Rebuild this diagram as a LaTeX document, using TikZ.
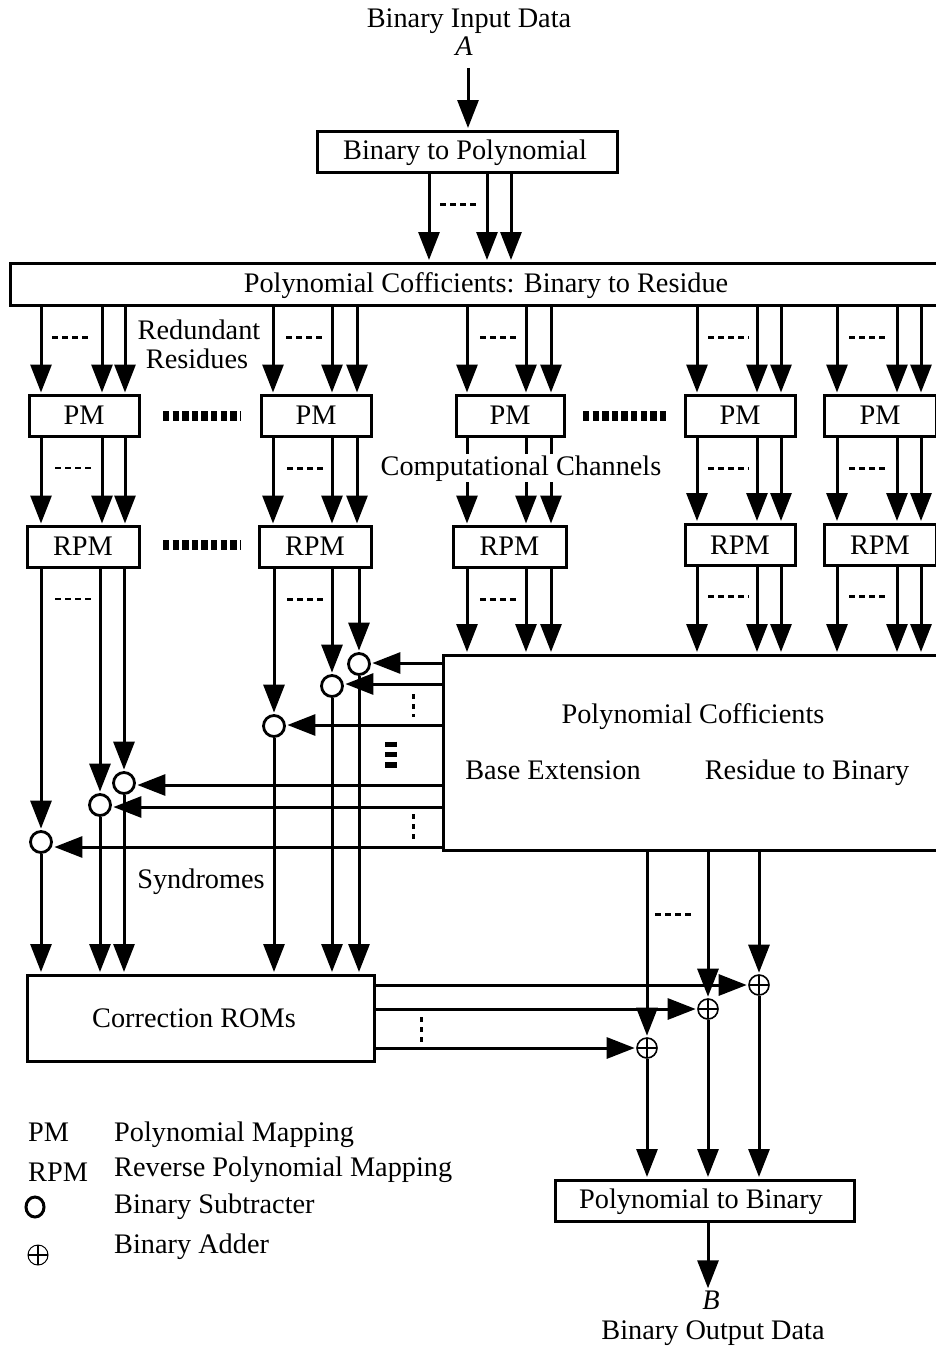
\documentclass[tikz,border=0pt]{standalone}
\usepackage{fontspec}
\setmainfont{Liberation Serif}
\usetikzlibrary{arrows.meta, shapes.geometric}

\begin{document}
\begin{tikzpicture}[
  x=1pt, y=-1pt,
  font=\fontsize{28.3}{29}\selectfont,
  blockbox/.style={draw, line width=3pt, fill=white, inner sep=0pt, minimum height=#1,
                   text height=21pt, text depth=5pt},
  blockbox/.default=41pt,
  arr/.style={-{Triangle[length=28pt,width=21pt]}, line width=3pt, shorten >=1.5pt},
  subtr/.style={circle, draw, line width=2.8pt, fill=white, minimum size=21pt, inner sep=0pt},
  adder/.style={circle, draw, line width=1.6pt, fill=white, minimum size=20pt, inner sep=0pt,
                path picture={\draw[line width=1.3pt]
                  (path picture bounding box.north) -- (path picture bounding box.south)
                  (path picture bounding box.west) -- (path picture bounding box.east);}},
  dotsh/.style={line width=3pt, dash pattern=on 6pt off 4pt},
  dotsv/.style={line width=3pt, dash pattern=on 5pt off 5pt},
  dotsbig/.style={line width=10pt, dash pattern=on 6.4pt off 3.2pt},
  lbl/.style={inner sep=0pt, text height=19pt, text depth=5pt},
  legend/.style={lbl, anchor=west}
]
\useasboundingbox (0,0) rectangle (936,1346);

% channel columns
\coordinate (ca1) at (41,0);  \coordinate (ca2) at (102,0); \coordinate (ca3) at (125,0);
\coordinate (cb1) at (273,0); \coordinate (cb2) at (332,0); \coordinate (cb3) at (357,0);
\coordinate (cc1) at (467,0); \coordinate (cc2) at (526,0); \coordinate (cc3) at (551,0);
\coordinate (cd1) at (697,0); \coordinate (cd2) at (757,0); \coordinate (cd3) at (781,0);
\coordinate (ce1) at (837,0); \coordinate (ce2) at (897,0); \coordinate (ce3) at (921,0);

% text and blocks
\node[lbl] (intxt) at (469,21) {Binary Input Data};
\node[lbl] (ina)   at (464,49) {\itshape A};
\node[blockbox, minimum width=300pt] (btp)  at (467,151.5) {};
\node[lbl] (btptxt) at (465,152) {Binary to Polynomial};
\node[blockbox=42pt, minimum width=930pt] (coef) at (475,284) {};
\node[lbl] (coeftxt) at (486,285) {Polynomial Cofficients: Binary to Residue};

\node[blockbox, minimum width=110pt] (pma) at (84,416)  {PM};
\node[blockbox, minimum width=110pt] (pmb) at (316,416) {PM};
\node[blockbox, minimum width=108pt] (pmc) at (510,416) {PM};
\node[blockbox, minimum width=110pt] (pmd) at (740,416) {PM};
\node[blockbox, minimum width=112pt] (pme) at (880,416) {PM};

\node[blockbox, minimum width=112pt] (rpma) at (83,547)  {RPM};
\node[blockbox, minimum width=112pt] (rpmb) at (315,547) {RPM};
\node[blockbox, minimum width=113pt] (rpmc) at (509.5,547) {RPM};
\node[blockbox, minimum width=110pt, text height=24pt] (rpmd) at (740,544.5) {RPM};
\node[blockbox, minimum width=112pt, text height=24pt] (rpme) at (880,544.5) {RPM};

\node[blockbox=195pt, minimum width=500pt] (main) at (693,752.5) {};
\node[lbl] (maintxt) at (693,716) {Polynomial Cofficients};
\node[lbl] (basetxt) at (553,772) {Base Extension};
\node[lbl] (rnstxt)  at (807,772) {Residue to Binary};

\node[blockbox=86pt, minimum width=347pt] (rom) at (200.5,1018) {};
\node[lbl] (romtxt) at (194,1020) {Correction ROMs};
\node[blockbox, minimum width=299pt] (ptb) at (704.5,1200.5) {};
\node[lbl] (ptbtxt) at (701,1201) {Polynomial to Binary};
\node[lbl] (outb)   at (711,1302) {\itshape B};
\node[lbl] (outtxt) at (713,1332) {Binary Output Data};

% subtracters and adders
\node[subtr] (sa1) at (41,842)  {};
\node[subtr] (sa2) at (100,805) {};
\node[subtr] (sa3) at (124,783) {};
\node[subtr] (sb1) at (274,726) {};
\node[subtr] (sb2) at (332,686) {};
\node[subtr] (sb3) at (359,664) {};
\node[adder] (ad1) at (647,1048) {};
\node[adder] (ad2) at (708,1009) {};
\node[adder] (ad3) at (759,985)  {};

% input side
\draw[arr] (ina) ++(4,19) -- (btp.north -| 468,0);
\draw[arr] (btp.south -| 429,0) -- (coef.north -| 429,0);
\draw[arr] (btp.south -| 487,0) -- (coef.north -| 487,0);
\draw[arr] (btp.south -| 511,0) -- (coef.north -| 511,0);

% residues to PM
\draw[arr] (coef.south -| ca1) -- (pma.north -| ca1);
\draw[arr] (coef.south -| ca2) -- (pma.north -| ca2);
\draw[arr] (coef.south -| ca3) -- (pma.north -| ca3);
\draw[arr] (coef.south -| cb1) -- (pmb.north -| cb1);
\draw[arr] (coef.south -| cb2) -- (pmb.north -| cb2);
\draw[arr] (coef.south -| cb3) -- (pmb.north -| cb3);
\draw[arr] (coef.south -| cc1) -- (pmc.north -| cc1);
\draw[arr] (coef.south -| cc2) -- (pmc.north -| cc2);
\draw[arr] (coef.south -| cc3) -- (pmc.north -| cc3);
\draw[arr] (coef.south -| cd1) -- (pmd.north -| cd1);
\draw[arr] (coef.south -| cd2) -- (pmd.north -| cd2);
\draw[arr] (coef.south -| cd3) -- (pmd.north -| cd3);
\draw[arr] (coef.south -| ce1) -- (pme.north -| ce1);
\draw[arr] (coef.south -| ce2) -- (pme.north -| ce2);
\draw[arr] (coef.south -| ce3) -- (pme.north -| ce3);

% PM to RPM
\draw[arr] (pma.south -| ca1) -- (rpma.north -| ca1);
\draw[arr] (pma.south -| ca2) -- (rpma.north -| ca2);
\draw[arr] (pma.south -| ca3) -- (rpma.north -| ca3);
\draw[arr] (pmb.south -| cb1) -- (rpmb.north -| cb1);
\draw[arr] (pmb.south -| cb2) -- (rpmb.north -| cb2);
\draw[arr] (pmb.south -| cb3) -- (rpmb.north -| cb3);
\draw[arr] (pmc.south -| cc1) -- (rpmc.north -| cc1);
\draw[arr] (pmc.south -| cc2) -- (rpmc.north -| cc2);
\draw[arr] (pmc.south -| cc3) -- (rpmc.north -| cc3);
\draw[arr] (pmd.south -| cd1) -- (rpmd.north -| cd1);
\draw[arr] (pmd.south -| cd2) -- (rpmd.north -| cd2);
\draw[arr] (pmd.south -| cd3) -- (rpmd.north -| cd3);
\draw[arr] (pme.south -| ce1) -- (rpme.north -| ce1);
\draw[arr] (pme.south -| ce2) -- (rpme.north -| ce2);
\draw[arr] (pme.south -| ce3) -- (rpme.north -| ce3);

% RPM to main block
\draw[arr] (rpmc.south -| cc1) -- (main.north -| cc1);
\draw[arr] (rpmc.south -| cc2) -- (main.north -| cc2);
\draw[arr] (rpmc.south -| cc3) -- (main.north -| cc3);
\draw[arr] (rpmd.south -| cd1) -- (main.north -| cd1);
\draw[arr] (rpmd.south -| cd2) -- (main.north -| cd2);
\draw[arr] (rpmd.south -| cd3) -- (main.north -| cd3);
\draw[arr] (rpme.south -| ce1) -- (main.north -| ce1);
\draw[arr] (rpme.south -| ce2) -- (main.north -| ce2);
\draw[arr] (rpme.south -| ce3) -- (main.north -| ce3);

% RPM to subtracters
\draw[arr] (rpma.south -| sa1) -- (sa1.north);
\draw[arr] (rpma.south -| sa2) -- (sa2.north);
\draw[arr] (rpma.south -| sa3) -- (sa3.north);
\draw[arr] (rpmb.south -| sb1) -- (sb1.north);
\draw[arr] (rpmb.south -| sb2) -- (sb2.north);
\draw[arr] (rpmb.south -| sb3) -- (sb3.north);

% base extension to subtracters
\draw[arr] (main.west |- 0,663) -- (sb3.east |- 0,663);
\draw[arr] (main.west |- 0,684) -- (sb2.east |- 0,684);
\draw[arr] (main.west |- 0,725) -- (sb1.east |- 0,725);
\draw[arr] (main.west |- 0,785) -- (sa3.east |- 0,785);
\draw[arr] (main.west |- 0,807) -- (sa2.east |- 0,807);
\draw[arr] (main.west |- 0,847) -- (sa1.east |- 0,847);

% syndromes to ROMs
\draw[arr] (sa1.south) -- (rom.north -| sa1);
\draw[arr] (sa2.south) -- (rom.north -| sa2);
\draw[arr] (sa3.south) -- (rom.north -| sa3);
\draw[arr] (sb1.south) -- (rom.north -| sb1);
\draw[arr] (sb2.south) -- (rom.north -| sb2);
\draw[arr] (sb3.south) -- (rom.north -| sb3);

% adders
\draw[arr] (main.south -| ad1) -- (ad1.north);
\draw[arr] (main.south -| ad2) -- (ad2.north);
\draw[arr] (main.south -| ad3) -- (ad3.north);
\draw[arr] (rom.east |- ad1) -- (ad1.west);
\draw[arr] (rom.east |- ad2) -- (ad2.west);
\draw[arr] (rom.east |- ad3) -- (ad3.west);
\draw[arr] (ad1.south) -- (ptb.north -| ad1);
\draw[arr] (ad2.south) -- (ptb.north -| ad2);
\draw[arr] (ad3.south) -- (ptb.north -| ad3);
\draw[arr] (ptb.south -| 708,0) -- (outb.north -| 708,0);

% dots
\draw[dotsh] (440,204) -- (477,204);
\draw[dotsh] (52,337) -- (88,337);
\draw[dotsh] (286,337) -- (322,337);
\draw[dotsh] (480,337) -- (516,337);
\draw[dotsh] (708,337) -- (749,337);
\draw[dotsh] (849,337) -- (885,337);
\draw[dotsh, line width=2pt] (55,468) -- (93,468);
\draw[dotsh] (287,468) -- (323,468);
\draw[dotsh] (708,468) -- (749,468);
\draw[dotsh] (849,468) -- (885,468);
\draw[dotsh, line width=2pt] (55,599) -- (93,599);
\draw[dotsh] (287,599) -- (323,599);
\draw[dotsh] (480,599) -- (516,599);
\draw[dotsh] (708,596) -- (749,596);
\draw[dotsh] (849,596) -- (885,596);
\draw[dotsh] (655,914) -- (691,914);
\draw[dotsbig] (163,416) -- (240,416);
\draw[dotsbig] (583,416) -- (669,416);
\draw[dotsbig] (163,545) -- (240,545);
\draw[dotsv] (413,694) -- (413,717);
\draw[dotsv] (413,814) -- (413,840);
\draw[dotsv] (421,1017) -- (421,1045);
\draw[line width=12pt, dash pattern=on 5.5pt off 4.8pt] (391,741.5) -- (391,768);

% labels
\node[lbl] (redtxt) at (199,332) {Redundant};
\node[lbl] (restxt) at (197,361) {Residues};
\node[lbl, fill=white, inner ysep=2pt] (comptxt) at (521,468) {Computational Channels};
\node[lbl] (syntxt) at (201,881) {Syndromes};

% legend
\node[legend] (lgpm)  at (28,1134) {PM};
\node[legend] (lgrpm) at (28,1174) {RPM};
\node[draw, ellipse, line width=3pt, minimum width=18pt, minimum height=20pt, inner sep=0pt] (lgsub) at (35,1207) {};
\node[adder, line width=1pt] (lgadd) at (38,1255) {};
\node[legend] (lgpmt)  at (114,1134) {Polynomial Mapping};
\node[legend] (lgrpmt) at (114,1169) {Reverse Polynomial Mapping};
\node[legend] (lgsubt) at (114,1206) {Binary Subtracter};
\node[legend] (lgaddt) at (114,1246) {Binary Adder};
\end{tikzpicture}
\end{document}
